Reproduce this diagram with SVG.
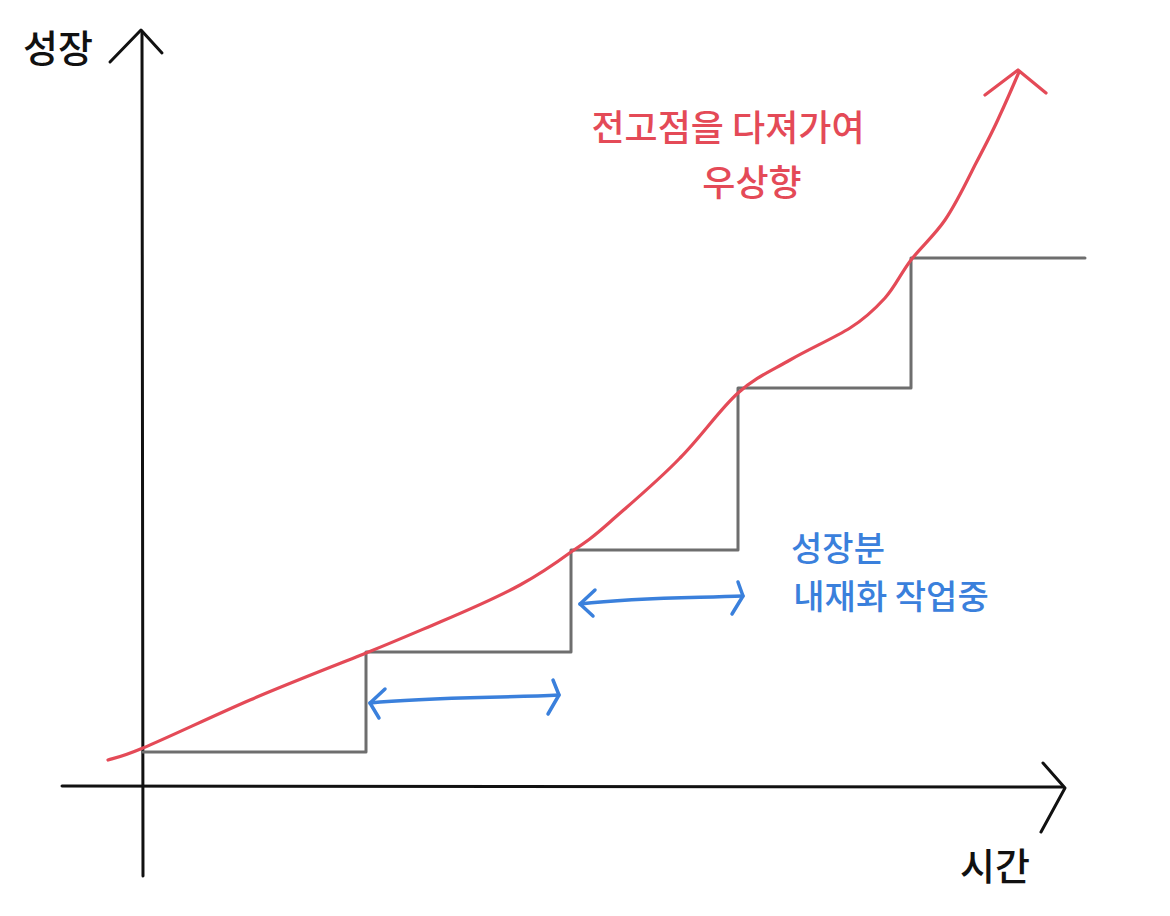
<svg xmlns="http://www.w3.org/2000/svg" width="1170" height="916" viewBox="0 0 1170 916">
<style>
.ax{fill:none;stroke:#111;stroke-width:3;stroke-linecap:round;stroke-linejoin:round}
.st{fill:none;stroke:#6e6e6e;stroke-width:3;stroke-linecap:round;stroke-linejoin:round}
.rd{fill:none;stroke:#e44a57;stroke-width:3.2;stroke-linecap:round;stroke-linejoin:round}
.bl{fill:none;stroke:#3a80dc;stroke-width:3.5;stroke-linecap:round;stroke-linejoin:round}
.t{font-family:"Noto Sans CJK KR","Noto Sans",sans-serif;font-weight:500}
.tk{fill:#111;font-size:38px}
.tr{fill:#e44a57;font-size:36px}
.tb{fill:#3a80dc;font-size:34px}
</style>
<rect width="1170" height="916" fill="#fff"/>
<g id="axes">
  <path class="ax" d="M143,876 L142,32"/>
  <path class="ax" d="M110,62 L141,30 L162,53"/>
  <path class="ax" d="M62,786 L1063,787"/>
  <path class="ax" d="M1043,763 L1065,788 L1041,832"/>
</g>
<g id="steps">
  <path class="st" d="M143,752 L366,752 L366,652 L571,652 L571,550 L738,550 L738,388 L911,388 L911,258 L1085,258"/>
</g>
<g id="curve">
  <path class="rd" d="M108,760 C114,758 119,758 143,748 C167,738 213,716 250,700 C287,684 334,666 366,653 C398,640 414,633 440,622 C466,611 498,597 520,585 C542,573 556,563 571,552 C586,542 592,538 610,522 C628,506 659,480 680,458 C701,437 720,409 738,393 C756,377 771,371 790,360 C809,349 834,338 850,328 C866,318 875,309 885,298 C895,287 901,273 911,260 C921,247 934,236 945,220 C956,204 966,183 975,165 C984,148 993,131 1000,115 C1007,100 1016,79 1019,72"/>
  <path class="rd" d="M985,95 L1018,70 L1046,93"/>
</g>
<g id="intervals">
  <path class="bl" d="M370,703 C430,697 500,698 559,695"/>
  <path class="bl" d="M385,689 L370,703 L379,718"/>
  <path class="bl" d="M553,680 L559,695 L548,714"/>
  <path class="bl" d="M580,604 C640,597 690,598 743,596"/>
  <path class="bl" d="M595,590 L580,604 L593,616"/>
  <path class="bl" d="M738,582 L743,596 L732,614"/>
</g>
<g id="labels">
  <text class="t tk" x="58" y="62" text-anchor="middle">성장</text>
  <text class="t tk" x="995" y="880" text-anchor="middle">시간</text>
  <text class="t tr" x="728" y="141" text-anchor="middle">전고점을 다져가여</text>
  <text class="t tr" x="752" y="196" text-anchor="middle">우상향</text>
  <text class="t tb" x="838" y="561" text-anchor="middle">성장분</text>
  <text class="t tb" x="891" y="609" text-anchor="middle">내재화 작업중</text>
</g>
</svg>
